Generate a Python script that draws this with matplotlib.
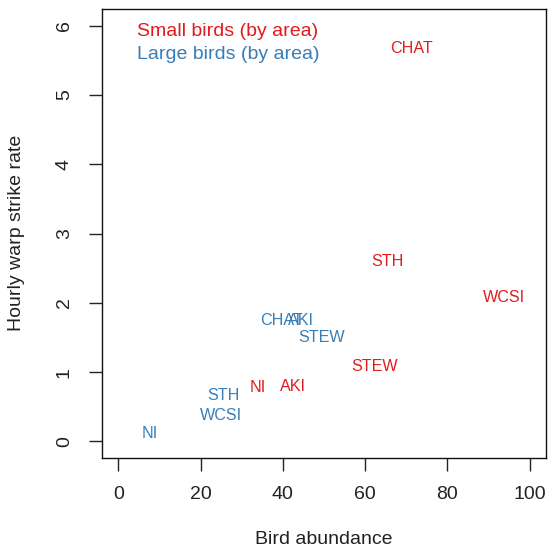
import matplotlib
matplotlib.use("Agg")
import matplotlib.pyplot as plt

# Bird abundance vs hourly warp strike rate, by fishing area
areas_small = ["CHAT", "STH", "WCSI", "STEW", "AKI", "NI"]
abund_small = [71.3, 65.5, 93.7, 62.3, 42.5, 33.9]
rate_small = [5.67, 2.60, 2.08, 1.08, 0.79, 0.78]

areas_large = ["CHAT", "AKI", "STEW", "STH", "WCSI", "NI"]
abund_large = [39.7, 44.5, 49.3, 25.5, 24.9, 7.7]
rate_large = [1.74, 1.74, 1.50, 0.66, 0.38, 0.11]

x_ticks = [0, 20, 40, 60, 80, 100]
y_ticks = [0, 1, 2, 3, 4, 5, 6]

red = "#E41A1C"
blue = "#377EB8"
ink = "#222222"

plt.rcParams["font.family"] = ["Liberation Sans", "DejaVu Sans"]

W, H = 548, 552
fig = plt.figure(figsize=(W / 100, H / 100), dpi=100)
ax = fig.add_axes([102 / W, 1 - 458 / H, 444 / W, 449 / H])

for name, x, y in zip(areas_small, abund_small, rate_small):
    ax.text(x, y, name, color=red, ha="center", va="center", fontsize=11.6)
for name, x, y in zip(areas_large, abund_large, rate_large):
    ax.text(x, y, name, color=blue, ha="center", va="center", fontsize=11.6)

ax.set_xlim(-4, 104)
ax.set_ylim(-0.24, 6.24)
ax.set_xticks(x_ticks)
ax.set_yticks(y_ticks)
ax.tick_params(axis="both", direction="out", length=9.4, width=1, colors=ink,
               labelsize=14)
ax.tick_params(axis="x", pad=10.5)
ax.tick_params(axis="y", pad=11.5)
for lab in ax.get_yticklabels():
    lab.set_rotation(90)
    lab.set_va("center")
for sp in ax.spines.values():
    sp.set_linewidth(1)
    sp.set_color("#111111")

fig.text(324 / W, 1 - 540 / H, "Bird abundance", fontsize=14, color=ink,
         ha="center", va="center")
fig.text(17 / W, 1 - 233 / H, "Hourly warp strike rate", fontsize=14, color=ink,
         ha="center", va="center", rotation=90)

ax.text(0.079, 0.949, "Small birds (by area)", transform=ax.transAxes, color=red,
        fontsize=14, ha="left", va="center")
ax.text(0.079, 0.898, "Large birds (by area)", transform=ax.transAxes, color=blue,
        fontsize=14, ha="left", va="center")

fig.savefig("out.png", dpi=100)
